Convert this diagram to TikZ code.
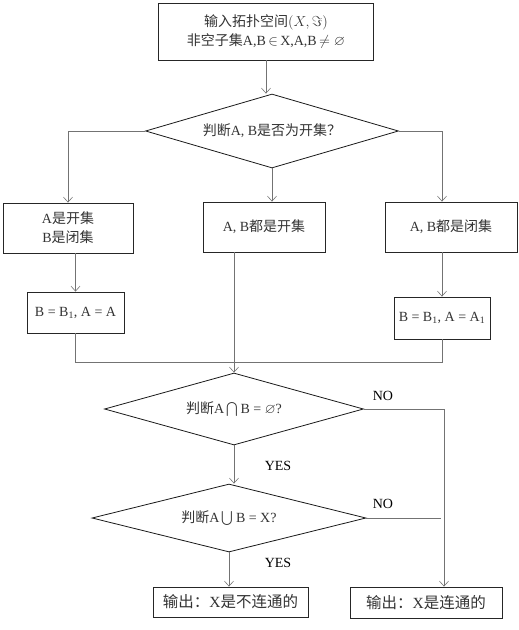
\documentclass[tikz,border=0pt]{standalone}
\usepackage{amssymb}
\usepackage{fontspec}
\setmainfont{Liberation Serif}
\newfontfamily\cjk{Noto Sans CJK SC}
\usetikzlibrary{shapes.geometric,arrows.meta}

\begin{document}
\begin{tikzpicture}[x=1pt,y=-1pt,>={Straight Barb[length=5pt,width=9pt]},
	caja/.style={draw=black!85,line width=0.8pt,align=center,text=black!80,inner sep=1pt,font=\fontsize{14}{19}\selectfont},
	rombo/.style={draw=black!90,line width=0.8pt,diamond,aspect=3.5,inner sep=0pt,text=black!80,font=\fontsize{14}{19}\selectfont},
	flecha/.style={->,draw=black!55,line width=0.6pt},
	linea/.style={draw=black!55,line width=0.6pt},
	etiq/.style={font=\fontsize{14}{16}\selectfont}]
	\useasboundingbox (0,0) rectangle (519,630);

		%Caja de entrada
		\node[caja,minimum width=215pt,minimum height=57pt] (1) at (266,31.5) {{\cjk 输入拓扑空间}$\bigl(X,\Im\bigr)$\\{\cjk 非空子集}A,B$\,\in\,$X,A,B$\,\neq\varnothing$};
		%Primer rombo
		\node[rombo,minimum width=253pt,minimum height=74pt] (2) at (272,131) {{\cjk 判断}A, B{\cjk 是否为开集？}};

		%Tres casos
		\node[caja,minimum width=130pt,minimum height=50pt] (3) at (68,228) {A{\cjk 是开集}\\B{\cjk 是闭集}};
		\node[caja,minimum width=122pt,minimum height=50pt] (4) at (264,227) {A, B{\cjk 都是开集}};
		\node[caja,minimum width=132pt,minimum height=50pt] (5) at (451,227) {A, B{\cjk 都是闭集}};
		\node[caja,minimum width=97pt,minimum height=41pt] (6) at (75.5,312.5) {B = B\textsubscript{1}, A = A};
		\node[caja,minimum width=96pt,minimum height=42pt] (7) at (442,318) {B = B\textsubscript{1}, A = A\textsubscript{1}};

		%Rombos de abajo
		\node[rombo,minimum width=259pt,minimum height=72pt] (8) at (234,409) {{\cjk 判断}A$\,{\textstyle\bigcap}\,$B = $\varnothing$?};
		\node[rombo,minimum width=274pt,minimum height=68pt] (9) at (229,518) {{\cjk 判断}A$\,{\textstyle\bigcup}\,$B = X?};

		%Salidas
		\node[caja,minimum width=155pt,minimum height=30pt,font=\fontsize{15.5}{18}\selectfont] (10) at (230.5,602) {{\cjk 输出：}X{\cjk 是不连通的}};
		\node[caja,minimum width=152pt,minimum height=31pt,font=\fontsize{15.5}{18}\selectfont] (11) at (426,602.5) {{\cjk 输出：}X{\cjk 是连通的}};

		%Etiquetas
		\node[etiq] (12) at (383,396) {NO};
		\node[etiq] (13) at (383,504) {NO};
		\node[etiq] (14) at (278,466) {YES};
		\node[etiq] (15) at (278,563) {YES};

		%Puntos de union
		\coordinate (j) at (235,362);
		\coordinate (k) at (444,409);

		%Flechas
		\draw[flecha] (1.south) -- (1.south |- 2.north);
		\draw[flecha] (2.west) -| (3.north);
		\draw[flecha] (2.south) -- (2.south |- 4.north);
		\draw[flecha] (2.east) -| (5.north -| 7.north);
		\draw[flecha] (3.south -| 6.north) -- (6.north);
		\draw[flecha] (5.south -| 7.north) -- (7.north);
		\draw[linea] (6.south) -- (6.south |- j) -- (7.south |- j) -- (7.south);
		\draw[flecha] (4.south -| 8.north) -- (8.north);
		\draw[flecha] (8.south) -- (8.south |- 9.north);
		\draw[flecha] (8.east) -- (k) -- (k |- 11.north);
		\draw[linea] (9.east) -- ([xshift=-3pt]9.east -| k);
		\draw[flecha] (9.south) -- (9.south |- 10.north);

\end{tikzpicture}
\end{document}
